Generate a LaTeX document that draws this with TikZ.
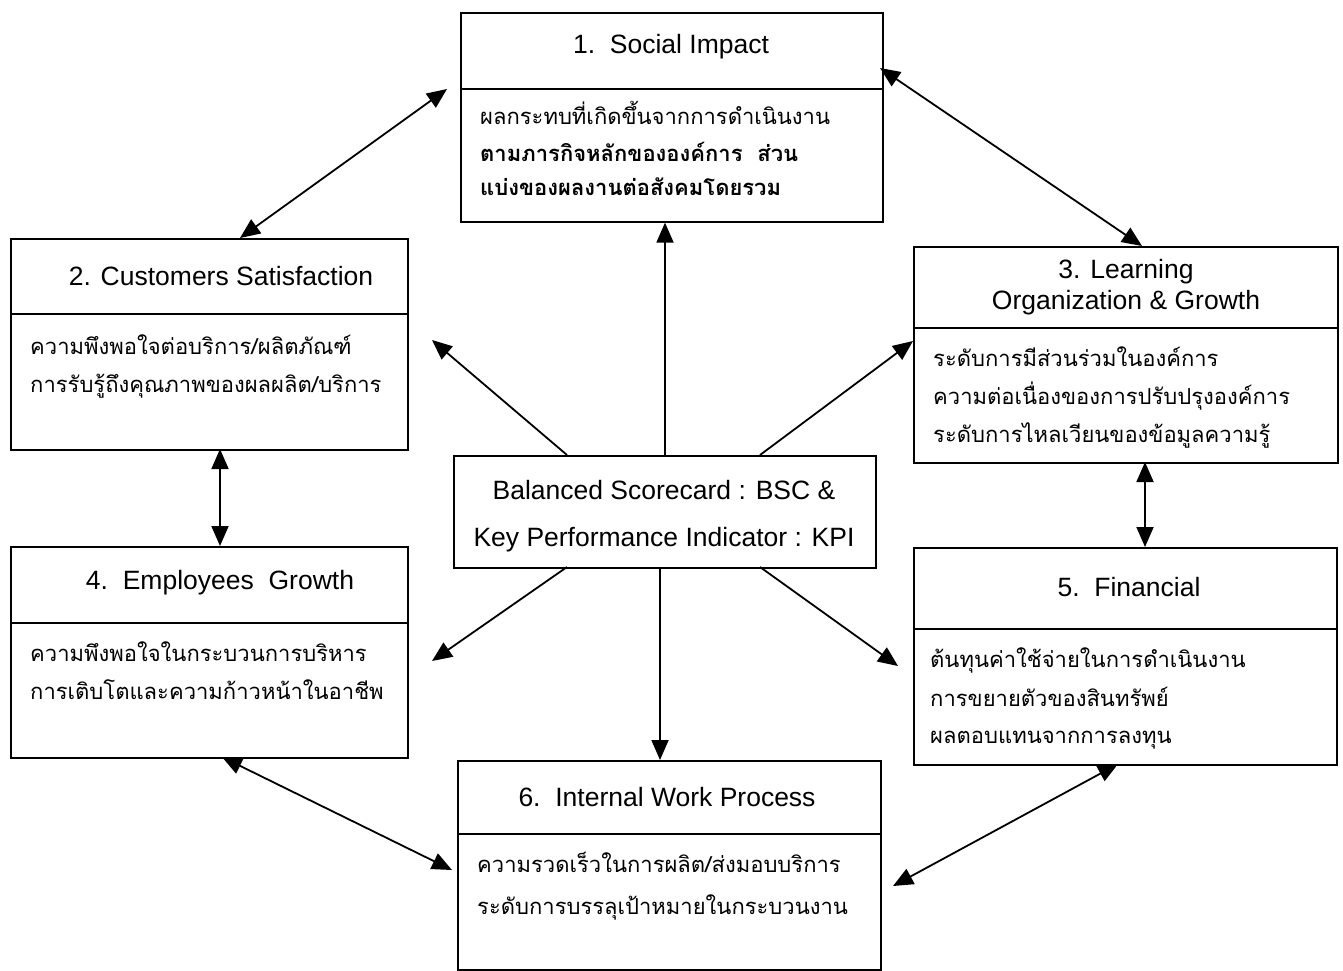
\documentclass[tikz,border=0pt]{standalone}
\usepackage{fontspec}
\setmainfont{Liberation Sans}
\newfontfamily\thaifont[Script=Thai]{Loma}
\usetikzlibrary{arrows.meta}
\begin{document}
\begin{tikzpicture}[x=1pt,y=-1pt,
  frame/.style={draw,line width=1.6pt,inner sep=0pt,anchor=north west},
  ttl/.style={font=\fontsize{26.5}{31}\selectfont,align=center},
  th/.style={font=\thaifont\fontsize{22}{26}\selectfont,anchor=base west,inner sep=0pt},
  thb/.style={th,font=\thaifont\bfseries\fontsize{22}{26}\selectfont},
  conn/.style={line width=1.8pt,-{Triangle[length=20pt,width=17pt]}},
  bconn/.style={line width=1.8pt,{Triangle[length=20pt,width=17pt]}-{Triangle[length=20pt,width=17pt]}}]
\useasboundingbox (0,0) rectangle (1343,970);
% Box 1
\node[frame,minimum width=422pt,minimum height=76pt] (t1) at (460,12) {};
\node[frame,minimum width=422pt,minimum height=133pt] (b1) at (460,88) {};
\node[ttl] (tt1) at (671,47) {1.\ \ Social Impact};
\node[th] (l11) at (480,124) {ผลกระทบที่เกิดขึ้นจากการดำเนินงาน};
\node[thb] (l12) at (480,161) {ตามภารกิจหลักขององค์การ\ \ ส่วน};
\node[thb] (l13) at (480,195) {แบ่งของผลงานต่อสังคมโดยรวม};
% Box 2
\node[frame,minimum width=397pt,minimum height=75pt] (t2) at (10,238) {};
\node[frame,minimum width=397pt,minimum height=136pt] (b2) at (10,313) {};
\node[ttl] (tt2) at (221,276) {2. Customers Satisfaction};
\node[th] (l21) at (30,354) {ความพึงพอใจต่อบริการ/ผลิตภัณฑ์};
\node[th] (l22) at (30,392) {การรับรู้ถึงคุณภาพของผลผลิต/บริการ};
% Box 3
\node[frame,minimum width=424pt,minimum height=81pt] (t3) at (913,246) {};
\node[frame,minimum width=424pt,minimum height=135pt] (b3) at (913,327) {};
\node[ttl] (tt3) at (1126,287) {3. Learning\\Organization \& Growth};
\node[th] (l31) at (933,366) {ระดับการมีส่วนร่วมในองค์การ};
\node[th] (l32) at (933,404) {ความต่อเนื่องของการปรับปรุงองค์การ};
\node[th] (l33) at (933,442) {ระดับการไหลเวียนของข้อมูลความรู้};
% Box 4
\node[frame,minimum width=397pt,minimum height=76pt] (t4) at (10,546) {};
\node[frame,minimum width=397pt,minimum height=135pt] (b4) at (10,622) {};
\node[ttl] (tt4) at (220,583) {4.\ \ Employees\ \ Growth};
\node[th] (l41) at (30,661) {ความพึงพอใจในกระบวนการบริหาร};
\node[th] (l42) at (30,699) {การเติบโตและความก้าวหน้าในอาชีพ};
% Box 5
\node[frame,minimum width=423pt,minimum height=81pt] (t5) at (913,547) {};
\node[frame,minimum width=423pt,minimum height=136pt] (b5) at (913,628) {};
\node[ttl] (tt5) at (1129,587) {5.\ \ Financial};
\node[th] (l51) at (930,667) {ต้นทุนค่าใช้จ่ายในการดำเนินงาน};
\node[th] (l52) at (930,706) {การขยายตัวของสินทรัพย์};
\node[th] (l53) at (930,743) {ผลตอบแทนจากการลงทุน};
% Box 6
\node[frame,minimum width=423pt,minimum height=73pt] (t6) at (457,760) {};
\node[frame,minimum width=423pt,minimum height=136pt] (b6) at (457,833) {};
\node[ttl] (tt6) at (667,797) {6.\ \ Internal Work Process};
\node[th] (l61) at (477,872) {ความรวดเร็วในการผลิต/ส่งมอบบริการ};
\node[th] (l62) at (477,914) {ระดับการบรรลุเป้าหมายในกระบวนงาน};
% Center
\node[frame,minimum width=422pt,minimum height=112pt] (c) at (453,455) {};
\node[ttl] (ct1) at (664,490) {Balanced Scorecard : BSC \&};
\node[ttl] (ct2) at (664,540) {Key Performance Indicator : KPI};
% connector end points
\coordinate (p1a) at (447,89);
\coordinate (p1b) at (240,238);
\coordinate (p2a) at (880,68);
\coordinate (p2b) at (1142,246);
\coordinate (c1) at (665,455);
\coordinate (c2) at (567,455);
\coordinate (c3) at (760,455);
\coordinate (c4) at (567,567);
\coordinate (c5) at (760,567);
\coordinate (c6) at (660,567);
\coordinate (e2) at (432,340);
\coordinate (e3) at (913,341);
\coordinate (e4) at (432,661);
\coordinate (e5) at (898,666);
\coordinate (p6a) at (220,449);
\coordinate (p6b) at (220,546);
\coordinate (p7a) at (1145,462);
\coordinate (p7b) at (1145,547);
\coordinate (p11a) at (222,757);
\coordinate (p11b) at (452,870);
\coordinate (p12a) at (1118,764);
\coordinate (p12b) at (893,886);
% connectors
\draw[bconn] (p1a) -- (p1b);
\draw[bconn] (p2a) -- (p2b);
\draw[conn] (c1) -- (b1.south -| c1);
\draw[conn] (c2) -- (e2);
\draw[conn] (c3) -- (e3);
\draw[conn] (c4) -- (e4);
\draw[conn] (c5) -- (e5);
\draw[conn] (c6) -- (t6.north -| c6);
\draw[bconn] (p6a) -- (p6b);
\draw[bconn] (p7a) -- (p7b);
\draw[bconn] (p11a) -- (p11b);
\draw[bconn] (p12a) -- (p12b);
\end{tikzpicture}
\end{document}
